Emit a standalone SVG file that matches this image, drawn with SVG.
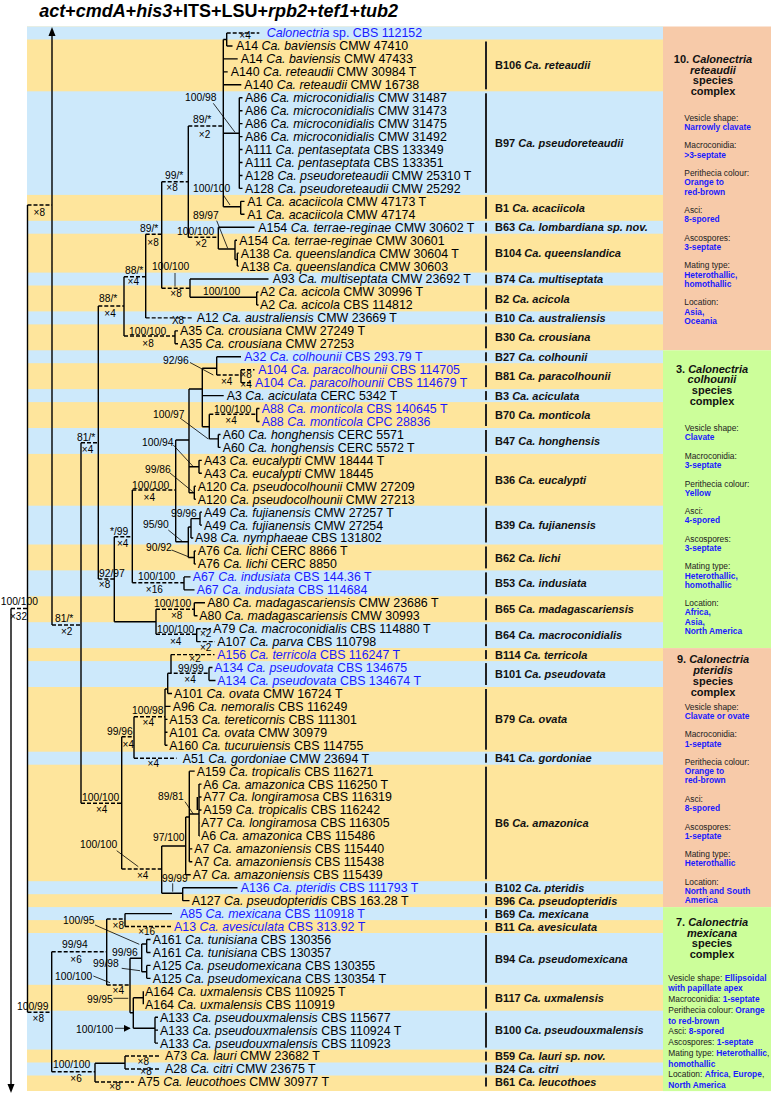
<svg xmlns="http://www.w3.org/2000/svg" width="772" height="1094" viewBox="0 0 772 1094">
<style>
text{font-family:"Liberation Sans",Arial,sans-serif}
.tx{font-size:12.4px;fill:#000}
.bt{fill:#1a1aff}
.i{font-style:italic}
.bl{font-size:11px;font-weight:bold;fill:#111}
.sp{font-size:10.3px;fill:#000}
.x{font-size:10px;fill:#000;text-anchor:middle}
.s{stroke:#000;stroke-width:1.4;fill:none}
.d{stroke:#000;stroke-width:1.4;fill:none;stroke-dasharray:4 2}
.a{stroke:#000;stroke-width:0.8;fill:none;marker-end:url(#ah)}
.bar{fill:#222}
.hd{font-size:11px;font-weight:bold;text-anchor:middle;fill:#111}
.fl{font-size:8.4px;fill:#222}
.fv{font-size:8.4px;font-weight:bold;fill:#1a1aff}
.yb{fill:#fee59c}.bb{fill:#cde9fb}.sb{fill:#f7caa9}.gb{fill:#ccfe9a}
</style>
<defs>
<marker id="ah" viewBox="0 0 10 10" refX="9" refY="5" markerWidth="7" markerHeight="7" markerUnits="userSpaceOnUse" orient="auto"><path d="M0,0L10,5L0,10z" fill="#000"/></marker>
</defs>
<text x="39.3" y="16.5" font-size="18" font-weight="bold"><tspan class="i">act</tspan>+<tspan class="i">cmdA</tspan>+<tspan class="i">his3</tspan>+ITS+LSU+<tspan class="i">rpb2</tspan>+<tspan class="i">tef1</tspan>+<tspan class="i">tub2</tspan></text>
<g id="bands">
<rect class="yb" x="27" y="26.5" width="636" height="1064.5"/>
<rect class="bb" x="27" y="26.5" width="636" height="13"/>
<rect class="bb" x="27" y="91.3" width="636" height="103.6"/>
<rect class="bb" x="27" y="220.8" width="636" height="12.9"/>
<rect class="bb" x="27" y="272.6" width="636" height="12.9"/>
<rect class="bb" x="27" y="311.4" width="636" height="13"/>
<rect class="bb" x="27" y="350.3" width="636" height="12.9"/>
<rect class="bb" x="27" y="389.1" width="636" height="13"/>
<rect class="bb" x="27" y="428" width="636" height="25.9"/>
<rect class="bb" x="27" y="505.7" width="636" height="38.8"/>
<rect class="bb" x="27" y="570.4" width="636" height="25.9"/>
<rect class="bb" x="27" y="622.2" width="636" height="25.9"/>
<rect class="bb" x="27" y="661.1" width="636" height="25.9"/>
<rect class="bb" x="27" y="751.7" width="636" height="13"/>
<rect class="bb" x="27" y="881.2" width="636" height="13"/>
<rect class="bb" x="27" y="907.1" width="636" height="13"/>
<rect class="bb" x="27" y="933" width="636" height="51.8"/>
<rect class="bb" x="27" y="1010.7" width="636" height="38.9"/>
<rect class="bb" x="27" y="1062.5" width="636" height="13"/>
<rect class="sb" x="663" y="26.5" width="108" height="323.8"/>
<rect class="gb" x="663" y="350.3" width="108" height="297.8"/>
<rect class="sb" x="663" y="648.1" width="108" height="259"/>
<rect class="gb" x="663" y="907.1" width="108" height="184"/>
</g>
<g id="connectors">
<path class="s" d="M52,35V625M27.5,205V1012.3M11,608.5V1085
M223.3,39.5V206.7M223.3,39.5H226.7M226.7,33V46M226.7,46H232.5M223.3,58.9H237.7M223.3,71.85H227.7M223.3,84.8H241.3
M223.3,133.3H239.3M239.3,97.75V188.4M239.3,97.75H242.5M239.3,110.7H242.5M239.3,123.65H242.5M239.3,136.6H242.5M239.3,149.55H242.5M239.3,162.5H242.5M239.3,175.45H242.5M239.3,188.4H242.5
M223.3,206.7H240.7M240.7,201.35V214.3M240.7,201.35H244.5M240.7,214.3H244.5
M188.3,126V237.3M218.3,227.25V249M218.3,227.25H254.5M218.3,249H235M235,240.2V259.6M235,240.2H237M235,259.6H237.3M237.3,253.15V266.1M237.3,253.15H238.7M237.3,266.1H238.7
M161.7,181.7V288.3M190,279.05V297.3M190,279.05H268.5M190,297.3H256.7M256.7,292V304.95M256.7,292H258.5M256.7,304.95H258.5
M145.7,234.3V317.9M124,276.7V336M175,330.85V343.8M175,330.85H178M175,343.8H178
M98.3,306V579M81,442.7V803.3
M114.3,536.7V621.7M114.3,621.7H156M156,609.3V634.3M194.3,602.8V615.75M194.3,602.8H205M194.3,615.75H197.5M196.7,628.7V641.65
M132.3,490V582.7M175.7,440V541.7M175.7,440H189M189,389V492.8M189,389H202.3M202.3,368.3V426.7
M202.3,368.3H216.7M216.7,356.75V375M216.7,356.75H241M241,369.7V382.65M202.3,395.6H223.7
M202.3,426.7H209.3M209.3,414.3V438.9M256.7,408.55V421.5M256.7,408.55H259.5M256.7,421.5H259.5
M209.3,438.9H218.3M218.3,434.45V447.4M218.3,434.45H220.5M218.3,447.4H220.5
M189,466.8H199M199,460.35V473.3M199,460.35H201.8M199,473.3H201.8
M189,492.8H194.3M194.3,486.25V499.2M194.3,486.25H195.8M194.3,499.2H195.8
M175.7,541.7H188.3M188.3,527V557.5M188.3,527H191M191,518.6V538.05M191,518.6H200M200,512.15V525.1M200,512.15H202M200,525.1H202M191,538.05H193.3
M188.3,557.5H194.3M194.3,551V563.95M194.3,551H195.8M194.3,563.95H195.8
M184,576.9V589.85M184,576.9H190.5M184,589.85H194.5
M121.7,736.7V869M134,716.7V758.2M165,689V745.25M165,706.4H170.5M165,719.35H167.5M165,732.3H167.5M165,745.25H167.5
M165,689H167.7M167.7,673.3V693.45M167.7,693.45H172M171,654.6V673.3M209,667.55V680.5M209,667.55H212.5M209,680.5H215.5
M161.7,846H185.7M185.7,817V874.75M185.7,874.75H190.7M185.7,817H189.3M189.3,771.15V861.8M189.3,771.15H194.7M189.3,848.85H192.3M189.3,861.8H192.3
M189.3,814H199M199,784.1V835.9M199,784.1H201.5M199,797.05H201.5M199,810H201.5M199,822.95H199.8M199,835.9H199.8M197.3,797V810
M161.7,846V893.3M161.7,893.3H182.7M182.7,887.7V900.65M182.7,887.7H237.5M182.7,900.65H189.5
M51.7,951.7V1071.7M106.7,919V985M125,913.6V926.55M125,913.6H172
M130,958.3V1012.8M130,958.3H141.7M141.7,944V971.8M141.7,944H146.7M146.7,939.5V952.45M146.7,939.5H150.5M146.7,952.45H150.5M141.7,971.8H146.7M146.7,965.4V978.35M146.7,965.4H150.5M146.7,978.35H150.5
M130,1012.8H133.3M133.3,997.8V1028.3M133.3,997.8H143.3M143.3,991.3V1004.25M133.3,1028.3H155M155,1017.2V1043.1M155,1017.2H158M155,1030.15H158M155,1043.1H158
M95,1063.3V1081.95M95,1063.3H125M125,1056.05V1069"/>
<path class="d" d="M226.7,33H259.3M188.3,126H223.3M161.7,181.7H188.3M188.3,237.3H218.3M161.7,288.3H190M145.7,234.3H161.7M145.7,317.9H191.7M124,276.7H145.7M124,336H175M98.3,306H124M81,442.7H98.3M52,625H81M27.5,205H52M11,608.5H27.5M27.5,1012.3H51.7
M98.3,579H114.3M114.3,536.7H132.3M132.3,490H175.7M132.3,582.7H184M216.7,375H241M241,369.7H254.5M241,382.65H252.5M209.3,414.3H256.7M156,609.3H194.3M156,634.3H196.7M196.7,628.7H211M196.7,641.65H215
M81,803.3H121.7M121.7,736.7H134M134,716.7H165M134,758.2H176.5M171,654.6H214.5M167.7,673.3H209M121.7,869H161.7
M51.7,951.7H106.7M106.7,919H125M125,926.55H171M106.7,985H130M51.7,1071.7H95M125,1056.05H161M125,1069H161M95,1081.95H134"/>
<polygon points="52,27 48.5,36 55.5,36" fill="#000"/>
<polygon points="11,1093 7.5,1084 14.5,1084" fill="#000"/>
<path class="a" d="M213.3,103.3L235,132.3M223.3,195L230,205M216.7,220.7L227.7,248.3M175,273L175,286.7M190,362.5L213.3,375M180,418L208.3,439M173.3,445L192.7,466M170,473L192.7,491.7M168.3,530L182.7,541.7M171.7,550L188.3,556.7M185,801.7L193.3,814M116.7,850.7L138.3,866.7M172.7,883.3L172.7,891.7M95,925L139.3,944.3M121.7,968.3L140,970.7M93.3,976L110,982.7M113.3,998.3L128.3,998.3M115,1028.3L130,1028.3"/>
</g>
<g id="supports">
<text class="sp" x="185" y="101.4">100/98</text>
<text class="sp" x="193" y="122.7">89/*</text>
<text class="sp" x="165" y="179.4">99/*</text>
<text class="sp" x="193" y="192">100/100</text>
<text class="sp" x="193" y="218.7">89/97</text>
<text class="sp" x="177" y="234.7">100/100</text>
<text class="sp" x="140" y="232.4">89/*</text>
<text class="sp" x="152" y="270.4">100/100</text>
<text class="sp" x="125" y="273.7">88/*</text>
<text class="sp" x="203" y="294.7">100/100</text>
<text class="sp" x="99" y="302">88/*</text>
<text class="sp" x="129" y="334.7">100/100</text>
<text class="sp" x="163" y="363.7">92/96</text>
<text class="sp" x="214" y="412.7">100/100</text>
<text class="sp" x="153" y="418">100/97</text>
<text class="sp" x="77" y="441">81/*</text>
<text class="sp" x="142" y="446">100/94</text>
<text class="sp" x="145" y="472.7">99/86</text>
<text class="sp" x="132" y="489.4">100/100</text>
<text class="sp" x="171" y="517">99/96</text>
<text class="sp" x="143" y="528">95/90</text>
<text class="sp" x="110" y="534.7">*/99</text>
<text class="sp" x="146" y="551">90/92</text>
<text class="sp" x="99" y="577">92/97</text>
<text class="sp" x="138" y="580.4">100/100</text>
<text class="sp" x="0.7" y="605.4">100/100</text>
<text class="sp" x="154" y="607">100/100</text>
<text class="sp" x="55" y="622">81/*</text>
<text class="sp" x="157" y="633">100/100</text>
<text class="sp" x="178" y="672">99/99</text>
<text class="sp" x="132" y="713.7">100/98</text>
<text class="sp" x="107" y="734.7">99/96</text>
<text class="sp" x="82" y="801">100/100</text>
<text class="sp" x="158" y="799.7">89/81</text>
<text class="sp" x="153" y="841">97/100</text>
<text class="sp" x="80" y="847.7">100/100</text>
<text class="sp" x="162" y="882">99/99</text>
<text class="sp" x="63" y="924.4">100/95</text>
<text class="sp" x="62" y="948">99/94</text>
<text class="sp" x="112" y="956">99/96</text>
<text class="sp" x="93" y="967">99/98</text>
<text class="sp" x="55" y="979.7">100/100</text>
<text class="sp" x="87" y="1003">99/95</text>
<text class="sp" x="17" y="1009.7">100/99</text>
<text class="sp" x="76" y="1032.7">100/100</text>
<text class="sp" x="53" y="1067.7">100/100</text>
<text class="x" x="245" y="39">×4</text>
<text class="x" x="204.5" y="137.5">×2</text>
<text class="x" x="172" y="190.8">×8</text>
<text class="x" x="39.3" y="215.8">×8</text>
<text class="x" x="201" y="246.8">×2</text>
<text class="x" x="153" y="245.8">×8</text>
<text class="x" x="133.3" y="285.2">×4</text>
<text class="x" x="176" y="296.8">×8</text>
<text class="x" x="178" y="324.3">X8</text>
<text class="x" x="148" y="346.8">×8</text>
<text class="x" x="110" y="316.8">×4</text>
<text class="x" x="226.7" y="385.2">×4</text>
<text class="x" x="246" y="378.3">×8</text>
<text class="x" x="246" y="388.3">×4</text>
<text class="x" x="231" y="423.5">×4</text>
<text class="x" x="87.5" y="452.8">×4</text>
<text class="x" x="149.3" y="500.8">×4</text>
<text class="x" x="122.7" y="546.8">×4</text>
<text class="x" x="104.5" y="587.8">×8</text>
<text class="x" x="154.3" y="592.5">×16</text>
<text class="x" x="66.7" y="635.2">×2</text>
<text class="x" x="176.7" y="618.5">×8</text>
<text class="x" x="175.7" y="645.2">×4</text>
<text class="x" x="205.7" y="636.8">×2</text>
<text class="x" x="205.7" y="651.2">×2</text>
<text class="x" x="195" y="661.8">×2</text>
<text class="x" x="190" y="682.8">×4</text>
<text class="x" x="148.3" y="726.2">×4</text>
<text class="x" x="128.3" y="747.5">×4</text>
<text class="x" x="153.3" y="766.8">×4</text>
<text class="x" x="101.7" y="812.8">×4</text>
<text class="x" x="142.7" y="878.5">×4</text>
<text class="x" x="18.5" y="619.5">×32</text>
<text class="x" x="38.3" y="1021.8">×8</text>
<text class="x" x="76" y="962.8">×6</text>
<text class="x" x="118.3" y="928.5">×8</text>
<text class="x" x="146.7" y="934.5">×16</text>
<text class="x" x="118.3" y="994.2">×4</text>
<text class="x" x="76" y="1081.8">×6</text>
<text class="x" x="143.3" y="1064.5">×8</text>
<text class="x" x="146" y="1074.6">×8</text>
<text class="x" x="115" y="1090.2">×8</text>
</g>
<g id="taxa">
<g id="t1"><text class="tx bt" x="266.7" y="37.4"><tspan class="i">Calonectria</tspan> sp. CBS 112152</text></g>
<g id="t2"><text class="tx" x="236" y="50.35">A14 <tspan class="i">Ca. baviensis</tspan> CMW 47410</text></g>
<g id="t3"><text class="tx" x="240.7" y="63.3">A14 <tspan class="i">Ca. baviensis</tspan> CMW 47433</text></g>
<g id="t4"><text class="tx" x="230.7" y="76.25">A140 <tspan class="i">Ca. reteaudii</tspan> CMW 30984 T</text></g>
<g id="t5"><text class="tx" x="244.3" y="89.2">A140 <tspan class="i">Ca. reteaudii</tspan> CMW 16738</text></g>
<g id="t6"><text class="tx" x="245" y="102.15">A86 <tspan class="i">Ca. microconidialis</tspan> CMW 31487</text></g>
<g id="t7"><text class="tx" x="245" y="115.1">A86 <tspan class="i">Ca. microconidialis</tspan> CMW 31473</text></g>
<g id="t8"><text class="tx" x="245" y="128.05">A86 <tspan class="i">Ca. microconidialis</tspan> CMW 31475</text></g>
<g id="t9"><text class="tx" x="245" y="141">A86 <tspan class="i">Ca. microconidialis</tspan> CMW 31492</text></g>
<g id="t10"><text class="tx" x="245" y="153.95">A111 <tspan class="i">Ca. pentaseptata</tspan> CBS 133349</text></g>
<g id="t11"><text class="tx" x="245" y="166.9">A111 <tspan class="i">Ca. pentaseptata</tspan> CBS 133351</text></g>
<g id="t12"><text class="tx" x="245" y="179.85">A128 <tspan class="i">Ca. pseudoreteaudii</tspan> CMW 25310 T</text></g>
<g id="t13"><text class="tx" x="245" y="192.8">A128 <tspan class="i">Ca. pseudoreteaudii</tspan> CMW 25292</text></g>
<g id="t14"><text class="tx" x="247.3" y="205.75">A1 <tspan class="i">Ca. acaciicola</tspan> CMW 47173 T</text></g>
<g id="t15"><text class="tx" x="247.3" y="218.7">A1 <tspan class="i">Ca. acaciicola</tspan> CMW 47174</text></g>
<g id="t16"><text class="tx" x="258.3" y="231.65">A154 <tspan class="i">Ca. terrae-reginae</tspan> CMW 30602 T</text></g>
<g id="t17"><text class="tx" x="239.3" y="244.6">A154 <tspan class="i">Ca. terrae-reginae</tspan> CMW 30601</text></g>
<g id="t18"><text class="tx" x="240.7" y="257.55">A138 <tspan class="i">Ca. queenslandica</tspan> CMW 30604 T</text></g>
<g id="t19"><text class="tx" x="240.7" y="270.5">A138 <tspan class="i">Ca. queenslandica</tspan> CMW 30603</text></g>
<g id="t20"><text class="tx" x="272.7" y="283.45">A93 <tspan class="i">Ca. multiseptata</tspan> CMW 23692 T</text></g>
<g id="t21"><text class="tx" x="260" y="296.4">A2 <tspan class="i">Ca. acicola</tspan> CMW 30996 T</text></g>
<g id="t22"><text class="tx" x="260" y="309.35">A2 <tspan class="i">Ca. acicola</tspan> CBS 114812</text></g>
<g id="t23"><text class="tx" x="196.7" y="322.3">A12 <tspan class="i">Ca. australiensis</tspan> CMW 23669 T</text></g>
<g id="t24"><text class="tx" x="180" y="335.25">A35 <tspan class="i">Ca. crousiana</tspan> CMW 27249 T</text></g>
<g id="t25"><text class="tx" x="180" y="348.2">A35 <tspan class="i">Ca. crousiana</tspan> CMW 27253</text></g>
<g id="t26"><text class="tx bt" x="244.3" y="361.15">A32 <tspan class="i">Ca. colhounii</tspan> CBS 293.79 T</text></g>
<g id="t27"><text class="tx bt" x="258.3" y="374.1">A104 <tspan class="i">Ca. paracolhounii</tspan> CBS 114705</text></g>
<g id="t28"><text class="tx bt" x="255" y="387.05">A104 <tspan class="i">Ca. paracolhounii</tspan> CBS 114679 T</text></g>
<g id="t29"><text class="tx" x="226.7" y="400">A3 <tspan class="i">Ca. aciculata</tspan> CERC 5342 T</text></g>
<g id="t30"><text class="tx bt" x="261.7" y="412.95">A88 <tspan class="i">Ca. monticola</tspan> CBS 140645 T</text></g>
<g id="t31"><text class="tx bt" x="261.7" y="425.9">A88 <tspan class="i">Ca. monticola</tspan> CPC 28836</text></g>
<g id="t32"><text class="tx" x="222.7" y="438.85">A60 <tspan class="i">Ca. honghensis</tspan> CERC 5571</text></g>
<g id="t33"><text class="tx" x="222.7" y="451.8">A60 <tspan class="i">Ca. honghensis</tspan> CERC 5572 T</text></g>
<g id="t34"><text class="tx" x="204" y="464.75">A43 <tspan class="i">Ca. eucalypti</tspan> CMW 18444 T</text></g>
<g id="t35"><text class="tx" x="204" y="477.7">A43 <tspan class="i">Ca. eucalypti</tspan> CMW 18445</text></g>
<g id="t36"><text class="tx" x="197.7" y="490.65">A120 <tspan class="i">Ca. pseudocolhounii</tspan> CMW 27209</text></g>
<g id="t37"><text class="tx" x="197.7" y="503.6">A120 <tspan class="i">Ca. pseudocolhounii</tspan> CMW 27213</text></g>
<g id="t38"><text class="tx" x="204" y="516.55">A49 <tspan class="i">Ca. fujianensis</tspan> CMW 27257 T</text></g>
<g id="t39"><text class="tx" x="204" y="529.5">A49 <tspan class="i">Ca. fujianensis</tspan> CMW 27254</text></g>
<g id="t40"><text class="tx" x="195" y="542.45">A98 <tspan class="i">Ca. nymphaeae</tspan> CBS 131802</text></g>
<g id="t41"><text class="tx" x="197.7" y="555.4">A76 <tspan class="i">Ca. lichi</tspan> CERC 8866 T</text></g>
<g id="t42"><text class="tx" x="197.7" y="568.35">A76 <tspan class="i">Ca. lichi</tspan> CERC 8850</text></g>
<g id="t43"><text class="tx bt" x="192.7" y="581.3">A67 <tspan class="i">Ca. indusiata</tspan> CBS 144.36 T</text></g>
<g id="t44"><text class="tx bt" x="196.7" y="594.25">A67 <tspan class="i">Ca. indusiata</tspan> CBS 114684</text></g>
<g id="t45"><text class="tx" x="207.3" y="607.2">A80 <tspan class="i">Ca. madagascariensis</tspan> CMW 23686 T</text></g>
<g id="t46"><text class="tx" x="199.3" y="620.15">A80 <tspan class="i">Ca. madagascariensis</tspan> CMW 30993</text></g>
<g id="t47"><text class="tx" x="213.3" y="633.1">A79 <tspan class="i">Ca. macroconidialis</tspan> CBS 114880 T</text></g>
<g id="t48"><text class="tx" x="217.3" y="646.05">A107 <tspan class="i">Ca. parva</tspan> CBS 110798</text></g>
<g id="t49"><text class="tx bt" x="217.3" y="659">A156 <tspan class="i">Ca. terricola</tspan> CBS 116247 T</text></g>
<g id="t50"><text class="tx bt" x="214.3" y="671.95">A134 <tspan class="i">Ca. pseudovata</tspan> CBS 134675</text></g>
<g id="t51"><text class="tx bt" x="217.3" y="684.9">A134 <tspan class="i">Ca. pseudovata</tspan> CBS 134674 T</text></g>
<g id="t52"><text class="tx" x="174" y="697.85">A101 <tspan class="i">Ca. ovata</tspan> CMW 16724 T</text></g>
<g id="t53"><text class="tx" x="172.7" y="710.8">A96 <tspan class="i">Ca. nemoralis</tspan> CBS 116249</text></g>
<g id="t54"><text class="tx" x="169.3" y="723.75">A153 <tspan class="i">Ca. tereticornis</tspan> CBS 111301</text></g>
<g id="t55"><text class="tx" x="169.3" y="736.7">A101 <tspan class="i">Ca. ovata</tspan> CMW 30979</text></g>
<g id="t56"><text class="tx" x="169.3" y="749.65">A160 <tspan class="i">Ca. tucuruiensis</tspan> CBS 114755</text></g>
<g id="t57"><text class="tx" x="182.7" y="762.6">A51 <tspan class="i">Ca. gordoniae</tspan> CMW 23694 T</text></g>
<g id="t58"><text class="tx" x="196.7" y="775.55">A159 <tspan class="i">Ca. tropicalis</tspan> CBS 116271</text></g>
<g id="t59"><text class="tx" x="203.3" y="788.5">A6 <tspan class="i">Ca. amazonica</tspan> CBS 116250 T</text></g>
<g id="t60"><text class="tx" x="203.3" y="801.45">A77 <tspan class="i">Ca. longiramosa</tspan> CBS 116319</text></g>
<g id="t61"><text class="tx" x="203.3" y="814.4">A159 <tspan class="i">Ca. tropicalis</tspan> CBS 116242</text></g>
<g id="t62"><text class="tx" x="201" y="827.35">A77 <tspan class="i">Ca. longiramosa</tspan> CBS 116305</text></g>
<g id="t63"><text class="tx" x="201" y="840.3">A6 <tspan class="i">Ca. amazonica</tspan> CBS 115486</text></g>
<g id="t64"><text class="tx" x="194.3" y="853.25">A7 <tspan class="i">Ca. amazoniensis</tspan> CBS 115440</text></g>
<g id="t65"><text class="tx" x="194.3" y="866.2">A7 <tspan class="i">Ca. amazoniensis</tspan> CBS 115438</text></g>
<g id="t66"><text class="tx" x="192.7" y="879.15">A7 <tspan class="i">Ca. amazoniensis</tspan> CBS 115439</text></g>
<g id="t67"><text class="tx bt" x="240.7" y="892.1">A136 <tspan class="i">Ca. pteridis</tspan> CBS 111793 T</text></g>
<g id="t68"><text class="tx" x="191.7" y="905.05">A127 <tspan class="i">Ca. pseudopteridis</tspan> CBS 163.28 T</text></g>
<g id="t69"><text class="tx bt" x="180" y="918">A85 <tspan class="i">Ca. mexicana</tspan> CBS 110918 T</text></g>
<g id="t70"><text class="tx bt" x="174" y="930.95">A13 <tspan class="i">Ca. avesiculata</tspan> CBS 313.92 T</text></g>
<g id="t71"><text class="tx" x="152.7" y="943.9">A161 <tspan class="i">Ca. tunisiana</tspan> CBS 130356</text></g>
<g id="t72"><text class="tx" x="152.7" y="956.85">A161 <tspan class="i">Ca. tunisiana</tspan> CBS 130357</text></g>
<g id="t73"><text class="tx" x="152.7" y="969.8">A125 <tspan class="i">Ca. pseudomexicana</tspan> CBS 130355</text></g>
<g id="t74"><text class="tx" x="152.7" y="982.75">A125 <tspan class="i">Ca. pseudomexicana</tspan> CBS 130354 T</text></g>
<g id="t75"><text class="tx" x="145" y="995.7">A164 <tspan class="i">Ca. uxmalensis</tspan> CBS 110925 T</text></g>
<g id="t76"><text class="tx" x="145" y="1008.65">A164 <tspan class="i">Ca. uxmalensis</tspan> CBS 110919</text></g>
<g id="t77"><text class="tx" x="160" y="1021.6">A133 <tspan class="i">Ca. pseudouxmalensis</tspan> CBS 115677</text></g>
<g id="t78"><text class="tx" x="160" y="1034.55">A133 <tspan class="i">Ca. pseudouxmalensis</tspan> CBS 110924 T</text></g>
<g id="t79"><text class="tx" x="160" y="1047.5">A133 <tspan class="i">Ca. pseudouxmalensis</tspan> CBS 110923</text></g>
<g id="t80"><text class="tx" x="165" y="1060.45">A73 <tspan class="i">Ca. lauri</tspan> CMW 23682 T</text></g>
<g id="t81"><text class="tx" x="165" y="1073.4">A28 <tspan class="i">Ca. citri</tspan> CMW 23675 T</text></g>
<g id="t82"><text class="tx" x="137.7" y="1086.35">A75 <tspan class="i">Ca. leucothoes</tspan> CMW 30977 T</text></g>
</g>
<g id="species">
<g id="B106"><rect class="bar" x="485" y="41.5" width="2" height="47.8"/><text class="bl" x="495" y="69.4">B106 <tspan class="i">Ca. reteaudii</tspan></text></g>
<g id="B97"><rect class="bar" x="485" y="93.3" width="2" height="99.6"/><text class="bl" x="495" y="147.1">B97 <tspan class="i">Ca. pseudoreteaudii</tspan></text></g>
<g id="B1"><rect class="bar" x="485" y="196.9" width="2" height="21.9"/><text class="bl" x="495" y="211.8">B1 <tspan class="i">Ca. acaciicola</tspan></text></g>
<g id="B63"><rect class="bar" x="485" y="222.8" width="2" height="8.9"/><text class="bl" x="495" y="231.3">B63 <tspan class="i">Ca. lombardiana sp. nov.</tspan></text></g>
<g id="B104"><rect class="bar" x="485" y="235.7" width="2" height="34.9"/><text class="bl" x="495" y="257.2">B104 <tspan class="i">Ca. queenslandica</tspan></text></g>
<g id="B74"><rect class="bar" x="485" y="274.6" width="2" height="8.9"/><text class="bl" x="495" y="283.1">B74 <tspan class="i">Ca. multiseptata</tspan></text></g>
<g id="B2"><rect class="bar" x="485" y="287.5" width="2" height="21.9"/><text class="bl" x="495" y="302.5">B2 <tspan class="i">Ca. acicola</tspan></text></g>
<g id="B10"><rect class="bar" x="485" y="313.4" width="2" height="9"/><text class="bl" x="495" y="321.9">B10 <tspan class="i">Ca. australiensis</tspan></text></g>
<g id="B30"><rect class="bar" x="485" y="326.4" width="2" height="21.9"/><text class="bl" x="495" y="341.3">B30 <tspan class="i">Ca. crousiana</tspan></text></g>
<g id="B27"><rect class="bar" x="485" y="352.3" width="2" height="8.9"/><text class="bl" x="495" y="360.8">B27 <tspan class="i">Ca. colhounii</tspan></text></g>
<g id="B81"><rect class="bar" x="485" y="365.2" width="2" height="21.9"/><text class="bl" x="495" y="380.2">B81 <tspan class="i">Ca. paracolhounii</tspan></text></g>
<g id="B3"><rect class="bar" x="485" y="391.1" width="2" height="9"/><text class="bl" x="495" y="399.6">B3 <tspan class="i">Ca. aciculata</tspan></text></g>
<g id="B70"><rect class="bar" x="485" y="404.1" width="2" height="21.9"/><text class="bl" x="495" y="419">B70 <tspan class="i">Ca. monticola</tspan></text></g>
<g id="B47"><rect class="bar" x="485" y="430" width="2" height="21.9"/><text class="bl" x="495" y="444.9">B47 <tspan class="i">Ca. honghensis</tspan></text></g>
<g id="B36"><rect class="bar" x="485" y="455.9" width="2" height="47.8"/><text class="bl" x="495" y="483.8">B36 <tspan class="i">Ca. eucalypti</tspan></text></g>
<g id="B39"><rect class="bar" x="485" y="507.7" width="2" height="34.8"/><text class="bl" x="495" y="529.1">B39 <tspan class="i">Ca. fujianensis</tspan></text></g>
<g id="B62"><rect class="bar" x="485" y="546.5" width="2" height="21.9"/><text class="bl" x="495" y="561.5">B62 <tspan class="i">Ca. lichi</tspan></text></g>
<g id="B53"><rect class="bar" x="485" y="572.4" width="2" height="21.9"/><text class="bl" x="495" y="587.4">B53 <tspan class="i">Ca. indusiata</tspan></text></g>
<g id="B65"><rect class="bar" x="485" y="598.3" width="2" height="21.9"/><text class="bl" x="495" y="613.3">B65 <tspan class="i">Ca. madagascariensis</tspan></text></g>
<g id="B64"><rect class="bar" x="485" y="624.2" width="2" height="21.9"/><text class="bl" x="495" y="639.2">B64 <tspan class="i">Ca. macroconidialis</tspan></text></g>
<g id="B114"><rect class="bar" x="485" y="650.1" width="2" height="9"/><text class="bl" x="495" y="658.6">B114 <tspan class="i">Ca. terricola</tspan></text></g>
<g id="B101"><rect class="bar" x="485" y="663.1" width="2" height="21.9"/><text class="bl" x="495" y="678">B101 <tspan class="i">Ca. pseudovata</tspan></text></g>
<g id="B79"><rect class="bar" x="485" y="689" width="2" height="60.7"/><text class="bl" x="495" y="723.4">B79 <tspan class="i">Ca. ovata</tspan></text></g>
<g id="B41"><rect class="bar" x="485" y="753.7" width="2" height="9"/><text class="bl" x="495" y="762.2">B41 <tspan class="i">Ca. gordoniae</tspan></text></g>
<g id="B6"><rect class="bar" x="485" y="766.7" width="2" height="112.5"/><text class="bl" x="495" y="827">B6 <tspan class="i">Ca. amazonica</tspan></text></g>
<g id="B102"><rect class="bar" x="485" y="883.2" width="2" height="9"/><text class="bl" x="495" y="891.7">B102 <tspan class="i">Ca. pteridis</tspan></text></g>
<g id="B96"><rect class="bar" x="485" y="896.2" width="2" height="8.9"/><text class="bl" x="495" y="904.7">B96 <tspan class="i">Ca. pseudopteridis</tspan></text></g>
<g id="B69"><rect class="bar" x="485" y="909.1" width="2" height="9"/><text class="bl" x="495" y="917.6">B69 <tspan class="i">Ca. mexicana</tspan></text></g>
<g id="B11"><rect class="bar" x="485" y="922.1" width="2" height="8.9"/><text class="bl" x="495" y="930.6">B11 <tspan class="i">Ca. avesiculata</tspan></text></g>
<g id="B94"><rect class="bar" x="485" y="935" width="2" height="47.8"/><text class="bl" x="495" y="962.9">B94 <tspan class="i">Ca. pseudomexicana</tspan></text></g>
<g id="B117"><rect class="bar" x="485" y="986.8" width="2" height="21.9"/><text class="bl" x="495" y="1001.8">B117 <tspan class="i">Ca. uxmalensis</tspan></text></g>
<g id="B100"><rect class="bar" x="485" y="1012.7" width="2" height="34.9"/><text class="bl" x="495" y="1034.2">B100 <tspan class="i">Ca. pseudouxmalensis</tspan></text></g>
<g id="B59"><rect class="bar" x="485" y="1051.6" width="2" height="8.9"/><text class="bl" x="495" y="1060.1">B59 <tspan class="i">Ca. lauri sp. nov.</tspan></text></g>
<g id="B24"><rect class="bar" x="485" y="1064.5" width="2" height="9"/><text class="bl" x="495" y="1073">B24 <tspan class="i">Ca. citri</tspan></text></g>
<g id="B61"><rect class="bar" x="485" y="1077.5" width="2" height="9"/><text class="bl" x="495" y="1086">B61 <tspan class="i">Ca. leucothoes</tspan></text></g>
</g>
<g id="complex10">
<text class="hd" x="713" y="63">10. <tspan class="i">Calonectria</tspan></text>
<text class="hd i" x="713" y="73.7">reteaudii</text>
<text class="hd" x="713" y="84.4">species</text>
<text class="hd" x="713" y="95.1">complex</text>
<text class="fl" x="684.3" y="120.7">Vesicle shape:</text>
<text class="fv" x="684.3" y="130">Narrowly clavate</text>
<text class="fl" x="684.3" y="148.3">Macroconidia:</text>
<text class="fv" x="684.3" y="157.7">&gt;3-septate</text>
<text class="fl" x="684.3" y="176">Perithecia colour:</text>
<text class="fv" x="684.3" y="185.3">Orange to</text>
<text class="fv" x="684.3" y="194.7">red-brown</text>
<text class="fl" x="684.3" y="213">Asci:</text>
<text class="fv" x="684.3" y="222.3">8-spored</text>
<text class="fl" x="684.3" y="240.7">Ascospores:</text>
<text class="fv" x="684.3" y="250">3-septate</text>
<text class="fl" x="684.3" y="268.3">Mating type:</text>
<text class="fv" x="684.3" y="278">Heterothallic,</text>
<text class="fv" x="684.3" y="287">homothallic</text>
<text class="fl" x="684.3" y="305.3">Location:</text>
<text class="fv" x="684.3" y="314.7">Asia,</text>
<text class="fv" x="684.3" y="323.7">Oceania</text>
</g>
<g id="complex3">
<text class="hd" x="712" y="372.5">3. <tspan class="i">Calonectria</tspan></text>
<text class="hd i" x="712" y="383.4">colhounii</text>
<text class="hd" x="712" y="394.3">species</text>
<text class="hd" x="712" y="405.2">complex</text>
<text class="fl" x="684.7" y="431.3">Vesicle shape:</text>
<text class="fv" x="684.7" y="440.3">Clavate</text>
<text class="fl" x="684.7" y="459">Macroconidia:</text>
<text class="fv" x="684.7" y="468">3-septate</text>
<text class="fl" x="684.7" y="486.7">Perithecia colour:</text>
<text class="fv" x="684.7" y="495.7">Yellow</text>
<text class="fl" x="684.7" y="514">Asci:</text>
<text class="fv" x="684.7" y="523.3">4-spored</text>
<text class="fl" x="684.7" y="542">Ascospores:</text>
<text class="fv" x="684.7" y="551.3">3-septate</text>
<text class="fl" x="684.7" y="569.3">Mating type:</text>
<text class="fv" x="684.7" y="578.7">Heterothallic,</text>
<text class="fv" x="684.7" y="587.7">homothallic</text>
<text class="fl" x="684.7" y="606.3">Location:</text>
<text class="fv" x="684.7" y="615.3">Africa,</text>
<text class="fv" x="684.7" y="624.7">Asia,</text>
<text class="fv" x="684.7" y="634">North America</text>
</g>
<g id="complex9">
<text class="hd" x="713" y="663">9. <tspan class="i">Calonectria</tspan></text>
<text class="hd i" x="713" y="674">pteridis</text>
<text class="hd" x="713" y="685">species</text>
<text class="hd" x="713" y="696">complex</text>
<text class="fl" x="684.7" y="709.7">Vesicle shape:</text>
<text class="fv" x="684.7" y="718.7">Clavate or ovate</text>
<text class="fl" x="684.7" y="737.3">Macroconidia:</text>
<text class="fv" x="684.7" y="746.7">1-septate</text>
<text class="fl" x="684.7" y="765">Perithecia colour:</text>
<text class="fv" x="684.7" y="774.3">Orange to</text>
<text class="fv" x="684.7" y="783.3">red-brown</text>
<text class="fl" x="684.7" y="802">Asci:</text>
<text class="fv" x="684.7" y="811">8-spored</text>
<text class="fl" x="684.7" y="829.7">Ascospores:</text>
<text class="fv" x="684.7" y="839">1-septate</text>
<text class="fl" x="684.7" y="857.3">Mating type:</text>
<text class="fv" x="684.7" y="866.3">Heterothallic</text>
<text class="fl" x="684.7" y="885">Location:</text>
<text class="fv" x="684.7" y="894">North and South</text>
<text class="fv" x="684.7" y="903.3">America</text>
</g>
<g id="complex7">
<text class="hd" x="712" y="926">7. <tspan class="i">Calonectria</tspan></text>
<text class="hd i" x="712" y="936.7">mexicana</text>
<text class="hd" x="712" y="947.3">species</text>
<text class="hd" x="712" y="958.3">complex</text>
<text class="fl" x="668.3" y="980.7">Vesicle shape: <tspan class="fv">Ellipsoidal</tspan></text>
<text class="fv" x="668.3" y="991.3">with papillate apex</text>
<text class="fl" x="668.3" y="1002">Macroconidia: <tspan class="fv">1-septate</tspan></text>
<text class="fl" x="668.3" y="1013">Perithecia colour: <tspan class="fv">Orange</tspan></text>
<text class="fv" x="668.3" y="1023.7">to red-brown</text>
<text class="fl" x="668.3" y="1034.3">Asci: <tspan class="fv">8-spored</tspan></text>
<text class="fl" x="668.3" y="1045">Ascospores: <tspan class="fv">1-septate</tspan></text>
<text class="fl" x="668.3" y="1056">Mating type: <tspan class="fv">Heterothallic</tspan>,</text>
<text class="fv" x="668.3" y="1066.7">homothallic</text>
<text class="fl" x="668.3" y="1077.3">Location: <tspan class="fv">Africa</tspan>, <tspan class="fv">Europe</tspan>,</text>
<text class="fv" x="668.3" y="1088">North America</text>
</g>
</svg>
